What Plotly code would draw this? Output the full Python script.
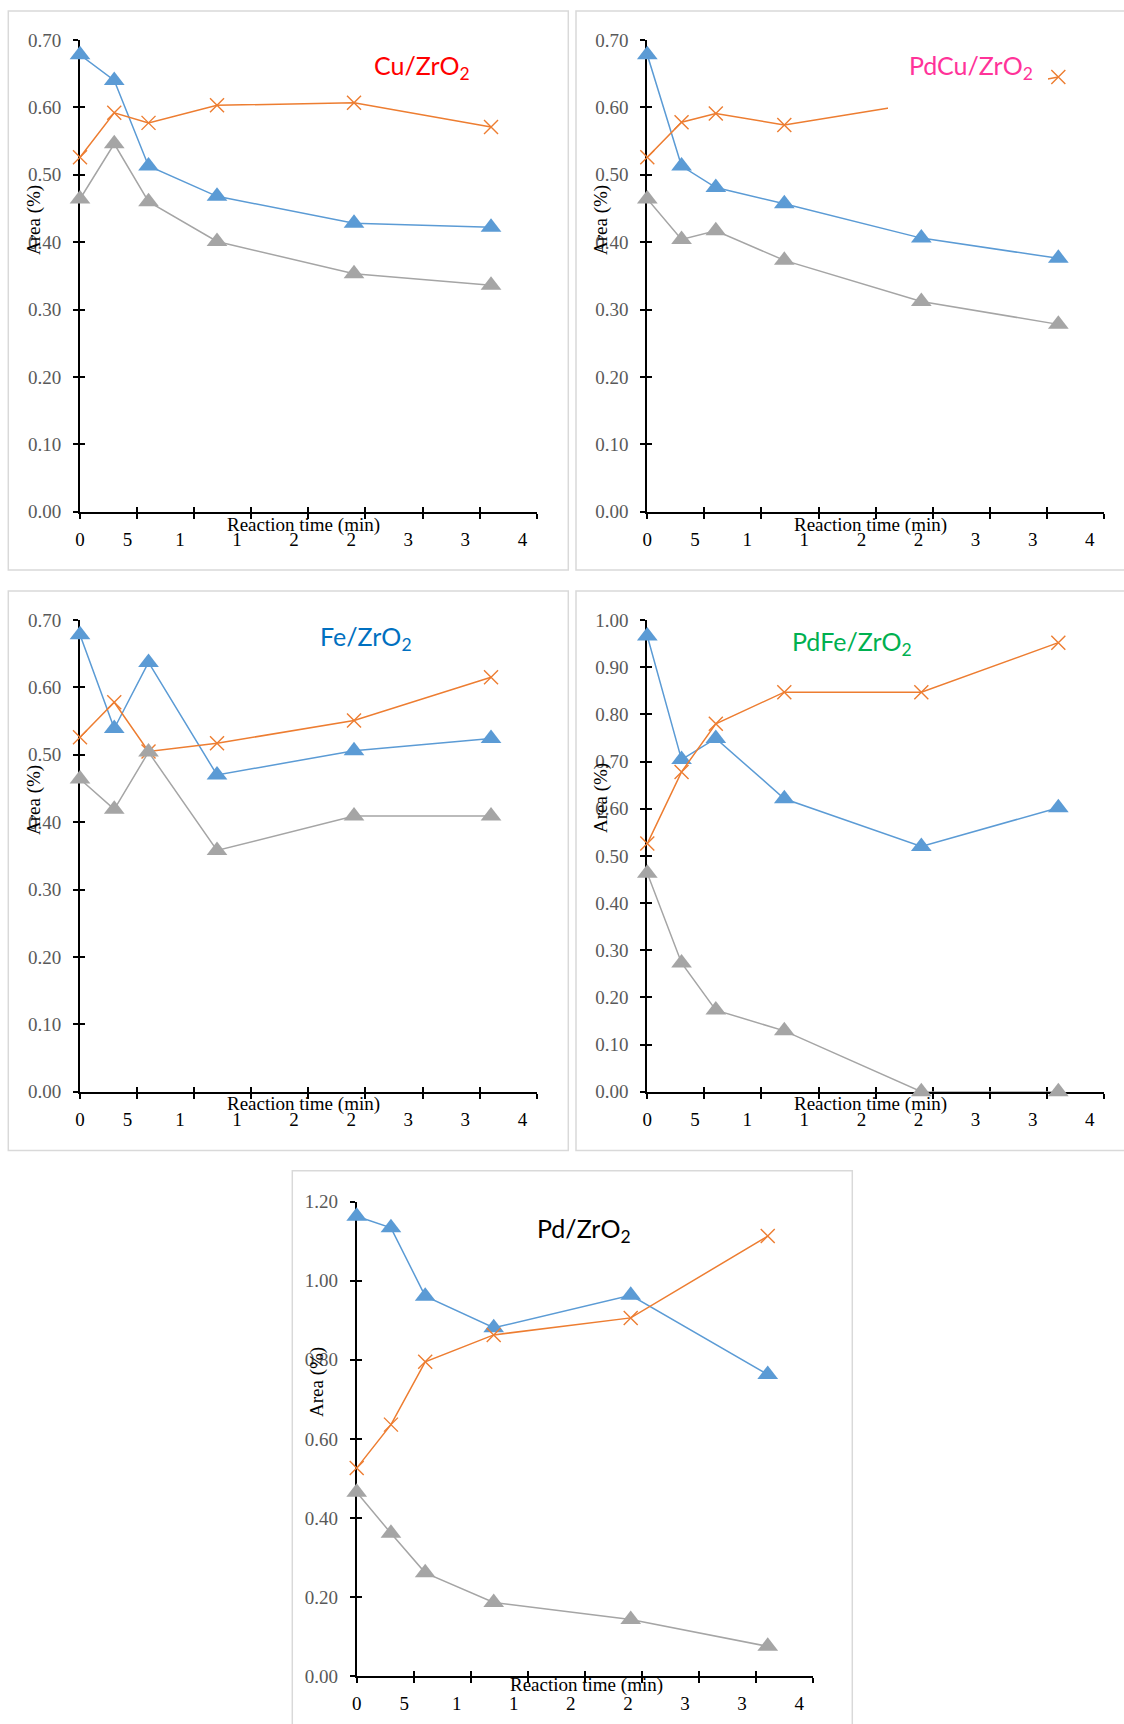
import plotly.graph_objects as go

W, H = 1124, 1724

# Sampling times (min) shared by every catalyst
time_min = [0, 3, 6, 12, 24, 36]

# Axis tick positions and their printed labels
x_tick_vals = [0, 5, 10, 15, 20, 25, 30, 35, 40]
x_tick_text = ["0", "5", "1", "1", "2", "2", "3", "3", "4"]

# Cu/ZrO2
cu_blue = [0.678, 0.640, 0.513, 0.468, 0.428, 0.422]
cu_orange = [0.526, 0.592, 0.577, 0.603, 0.607, 0.571]
cu_gray = [0.464, 0.546, 0.460, 0.401, 0.353, 0.336]

# PdCu/ZrO2
pdcu_blue = [0.678, 0.513, 0.481, 0.457, 0.406, 0.376]
pdcu_orange = [0.526, 0.578, 0.591, 0.574, 0.607, 0.645]
pdcu_gray = [0.464, 0.404, 0.417, 0.373, 0.312, 0.278]

# Fe/ZrO2
fe_blue = [0.678, 0.539, 0.637, 0.470, 0.506, 0.524]
fe_orange = [0.526, 0.578, 0.505, 0.517, 0.551, 0.615]
fe_gray = [0.464, 0.419, 0.504, 0.358, 0.409, 0.409]

# PdFe/ZrO2
pdfe_blue = [0.966, 0.704, 0.749, 0.621, 0.520, 0.602]
pdfe_orange = [0.526, 0.678, 0.780, 0.847, 0.847, 0.952]
pdfe_gray = [0.463, 0.273, 0.173, 0.129, 0.000, 0.000]

# Pd/ZrO2
pd_blue = [1.163, 1.134, 0.961, 0.881, 0.963, 0.763]
pd_orange = [0.526, 0.636, 0.795, 0.863, 0.906, 1.113]
pd_gray = [0.465, 0.361, 0.261, 0.186, 0.143, 0.075]

BLUE, ORANGE, GRAY = "#5B9BD5", "#ED7D31", "#A5A5A5"
SERIF = "Liberation Serif"
SANS = "Lato"
FS = 19

# Pixel layout of each panel: axis box, frame, title placement
panels = [
    dict(series=(cu_blue, cu_orange, cu_gray), ymax=0.70, dtick=0.10,
         ax=(80, 536.7, 40, 511.7), frame=(8.3, 11, 568.3, 570),
         title="Cu/ZrO<sub>2</sub>", tcolor="#FF0000", tpos=(422, 67.5),
         xt_dx=223.5, xt_dy=13.3, yt=(34, 220)),
    dict(series=(pdcu_blue, pdcu_orange, pdcu_gray), ymax=0.70, dtick=0.10,
         ax=(647.3, 1104, 40, 511.7), frame=(576, 11, 1140, 570),
         title="PdCu/ZrO<sub>2</sub>", tcolor="#FF3399", tpos=(971, 66.7),
         xt_dx=223.5, xt_dy=13.3, yt=(601, 220),
         tbox=(888, 46, 1048, 116)),
    dict(series=(fe_blue, fe_orange, fe_gray), ymax=0.70, dtick=0.10,
         ax=(80, 536.7, 620, 1091.7), frame=(8.3, 591, 568.3, 1150.5),
         title="Fe/ZrO<sub>2</sub>", tcolor="#0070C0", tpos=(366, 638),
         xt_dx=223.5, xt_dy=12.5, yt=(34, 800)),
    dict(series=(pdfe_blue, pdfe_orange, pdfe_gray), ymax=1.00, dtick=0.10,
         ax=(647.3, 1104, 620, 1091.7), frame=(576, 591, 1140, 1150.5),
         title="PdFe/ZrO<sub>2</sub>", tcolor="#00B050", tpos=(852, 642.7),
         xt_dx=223.5, xt_dy=12.5, yt=(601, 798)),
    dict(series=(pd_blue, pd_orange, pd_gray), ymax=1.20, dtick=0.20,
         ax=(356.7, 813.4, 1201.7, 1676), frame=(292.3, 1170.7, 852.3, 1740),
         title="Pd/ZrO<sub>2</sub>", tcolor="#000000", tpos=(583.5, 1230),
         xt_dx=230, xt_dy=8.8, yt=(317, 1382)),
]


def px(x):
    return x / W


def py(y):
    return 1 - y / H


fig = go.Figure()
layout = dict(
    width=W, height=H, autosize=False,
    margin=dict(l=0, r=0, t=0, b=0, pad=0, autoexpand=False),
    paper_bgcolor="white", plot_bgcolor="white",
    showlegend=False,
)
shapes, annotations = [], []

for i, p in enumerate(panels):
    a, b = 2 * i + 1, 2 * i + 2
    x0, x1, ytop, ybot = p["ax"]
    xdom = [px(x0), px(x1)]
    ydom = [py(ybot), py(ytop)]

    common_x = dict(range=[0, 40], tickvals=x_tick_vals, showgrid=False,
                    zeroline=False, layer="below traces", fixedrange=True,
                    automargin=False)
    common_y = dict(range=[0, p["ymax"]], tick0=0, dtick=p["dtick"], showgrid=False,
                    zeroline=False, layer="below traces", fixedrange=True,
                    automargin=False)

    # main axes: line, outer tick half and labels
    layout[f"xaxis{a}"] = dict(
        common_x, domain=xdom, anchor=f"y{a}",
        showline=True, linecolor="black", linewidth=2,
        ticks="outside", ticklen=5, tickwidth=2, tickcolor="black",
        ticktext=[t if k == 0 else (t + "\u2007\u2007" if k == 1 else t + "\u2007\u2007\u2007")
                  for k, t in enumerate(x_tick_text)],
        tickfont=dict(family=SERIF, size=FS, color="black"),
        ticklabelstandoff=4,
    )
    layout[f"yaxis{a}"] = dict(
        common_y, domain=ydom, anchor=f"x{a}",
        showline=True, linecolor="black", linewidth=2,
        ticks="outside", ticklen=5, tickwidth=2, tickcolor="black",
        tickformat=".2f",
        tickfont=dict(family=SERIF, size=FS, color="#595959"),
        ticklabelstandoff=8,
    )
    # overlay axes: inner tick half, so ticks cross the axis line
    layout[f"xaxis{b}"] = dict(
        common_x, overlaying=f"x{a}", anchor=f"y{a}",
        showline=False, ticks="inside", ticklen=5, tickwidth=2,
        tickcolor="black", showticklabels=False,
    )
    layout[f"yaxis{b}"] = dict(
        common_y, overlaying=f"y{a}", anchor=f"x{a}",
        showline=False, ticks="inside", ticklen=5, tickwidth=2,
        tickcolor="black", showticklabels=False,
    )
    fig.add_trace(go.Scatter(x=[None], y=[None], xaxis=f"x{b}", yaxis=f"y{b}",
                             mode="markers", hoverinfo="skip", showlegend=False))

    blue, orange, gray = p["series"]
    fig.add_trace(go.Scatter(
        x=time_min, y=blue, mode="lines+markers", cliponaxis=False,
        xaxis=f"x{a}", yaxis=f"y{a}",
        line=dict(color=BLUE, width=1.5),
        marker=dict(symbol="triangle-up", size=18, color=BLUE),
    ))
    fig.add_trace(go.Scatter(
        x=time_min, y=orange, mode="lines+markers", cliponaxis=False,
        xaxis=f"x{a}", yaxis=f"y{a}",
        line=dict(color=ORANGE, width=1.5),
        marker=dict(symbol="x-thin", size=14, color=ORANGE,
                    line=dict(color=ORANGE, width=1.4)),
    ))
    fig.add_trace(go.Scatter(
        x=time_min, y=gray, mode="lines+markers", cliponaxis=False,
        xaxis=f"x{a}", yaxis=f"y{a}",
        line=dict(color=GRAY, width=1.5),
        marker=dict(symbol="triangle-up", size=18, color=GRAY),
    ))

    # chart frame
    fx0, fy0, fx1, fy1 = p["frame"]
    shapes.append(dict(type="rect", xref="paper", yref="paper", layer="below",
                       x0=px(fx0), x1=px(fx1), y0=py(fy1), y1=py(fy0),
                       line=dict(color="#D9D9D9", width=1.5), fillcolor="white"))

    # title text box (opaque)
    if "tbox" in p:
        bx0, by0, bx1, by1 = p["tbox"]
        shapes.append(dict(type="rect", xref="paper", yref="paper", layer="above",
                           x0=px(bx0), x1=px(bx1), y0=py(by1), y1=py(by0),
                           line=dict(width=0), fillcolor="white"))

    tx, ty = p["tpos"]
    annotations.append(dict(text=p["title"], xref="paper", yref="paper",
                            x=px(tx), y=py(ty), xanchor="center", yanchor="middle",
                            showarrow=False,
                            font=dict(family=SANS, size=25, color=p["tcolor"])))
    annotations.append(dict(text="Reaction time (min)", xref="paper", yref="paper",
                            x=px(x0 + p["xt_dx"]), y=py(ybot + p["xt_dy"]),
                            xanchor="center", yanchor="middle", showarrow=False,
                            font=dict(family=SERIF, size=FS, color="black")))
    yx, yy = p["yt"]
    annotations.append(dict(text="Area (%)", xref="paper", yref="paper",
                            x=px(yx), y=py(yy), xanchor="center", yanchor="middle",
                            textangle=-90, showarrow=False,
                            font=dict(family=SERIF, size=FS, color="black")))

layout["shapes"] = shapes
layout["annotations"] = annotations
fig.update_layout(**layout)

fig.write_html("out.html")
